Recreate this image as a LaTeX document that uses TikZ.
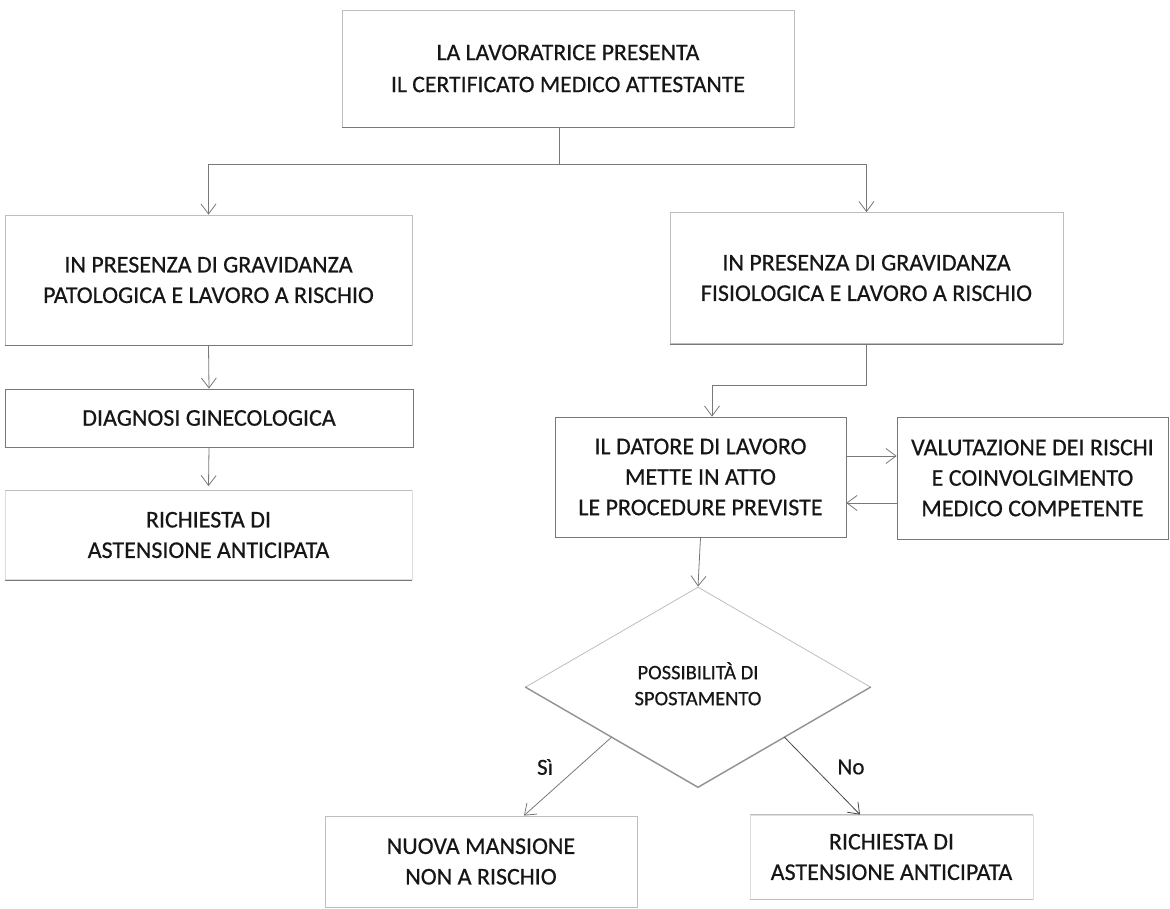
\documentclass[tikz,border=0pt]{standalone}
\usepackage{fontspec}
\setmainfont{Carlito}[FakeBold=0.5]
\usetikzlibrary{arrows.meta,shapes.geometric}
\definecolor{ln}{RGB}{120,120,120}
\definecolor{lnlight}{RGB}{190,190,190}
\definecolor{lnfaint}{RGB}{222,222,222}
\definecolor{tx}{RGB}{22,22,22}
\begin{document}
\begin{tikzpicture}[x=1pt,y=-1pt,
  box/.style={draw=ln, line width=0.8pt, rectangle, inner sep=0pt, align=center, text=tx,
              font=\fontsize{24}{30.5}\selectfont},
  softbox/.style={box, draw=lnlight},
  faintbox/.style={box, draw=lnfaint},
  arr/.style={draw=ln, line width=0.8pt, -{Straight Barb[length=10pt,width=15pt]}},
  conn/.style={draw=ln, line width=0.8pt},
  lab/.style={text=tx, font=\fontsize{23}{28}\selectfont, inner sep=0pt}]
\useasboundingbox (0,0) rectangle (1170,909);
\fill[white] (0,0) rectangle (1170,909);

% nodes
\node[softbox, minimum width=452pt, minimum height=117pt, font=\fontsize{23.7}{32}\selectfont] (top) at (568,68.5)
  {LA LAVORATRICE PRESENTA\\IL CERTIFICATO MEDICO ATTESTANTE};
\node[softbox, minimum width=407pt, minimum height=130pt] (pat) at (208.5,280)
  {IN PRESENZA DI GRAVIDANZA\\PATOLOGICA E LAVORO A RISCHIO};
\node[box, minimum width=408pt, minimum height=58pt] (diag) at (209,418)
  {DIAGNOSI GINECOLOGICA};
\node[faintbox, minimum width=407pt, minimum height=89pt] (ric1) at (208.5,535)
  {RICHIESTA DI\\ASTENSIONE ANTICIPATA};
\node[softbox, minimum width=393pt, minimum height=131pt] (fis) at (866.5,278)
  {IN PRESENZA DI GRAVIDANZA\\FISIOLOGICA E LAVORO A RISCHIO};
\node[box, minimum width=291pt, minimum height=120pt] (dat) at (700.5,477)
  {IL DATORE DI LAVORO\\METTE IN ATTO\\LE PROCEDURE PREVISTE};
\node[box, minimum width=271pt, minimum height=122pt] (val) at (1032.5,478)
  {VALUTAZIONE DEI RISCHI\\E COINVOLGIMENTO\\MEDICO COMPETENTE};
\node[draw=lnlight, line width=0.8pt, shape=diamond, minimum width=345pt, minimum height=200pt,
      inner sep=0pt, align=center, text=tx, font=\fontsize{20.5}{26}\selectfont] (dia) at (698,687)
  {\raisebox{10pt}{\begin{tabular}{@{}c@{}}POSSIBILITÀ DI\\SPOSTAMENTO\end{tabular}}};
\node[softbox, minimum width=312pt, minimum height=91pt] (nuo) at (481,861.5)
  {NUOVA MANSIONE\\NON A RISCHIO};
\node[faintbox, minimum width=283pt, minimum height=84pt] (ric2) at (891.5,857)
  {RICHIESTA DI\\ASTENSIONE ANTICIPATA};

% darker edges as in the scan
\draw[conn] (top.south west) -- (top.south east);
\draw[conn] (pat.south west) -- (pat.south east);
\draw[conn, line width=1pt] (diag.south west) -- (diag.south east);
\draw[conn, draw=lnlight] (ric1.north west) -- (ric1.north east);
\draw[conn] (ric1.south west) -- (ric1.south east);
\draw[conn] (fis.south west) -- (fis.south east);
\draw[conn, line width=1pt] (dat.south west) -- (dat.south east);
\draw[conn, line width=1pt] (val.south west) -- (val.south east);
\draw[conn, draw=lnlight] (ric2.north west) -- (ric2.north east);
\draw[conn, draw=lnlight] (ric2.south west) -- (ric2.south east);
\draw[conn, line width=1.3pt, draw=ln!80] (dia.west) -- (dia.south) -- (dia.east);

% labels
\node[lab] (si) at (545,767) {Sì};
\node[lab] (no) at (851,767) {No};

% connectors
\coordinate (j) at (559,164);
\draw[conn] (top.south -| j) -- (j);
\draw[arr] (j) -| (pat.north);
\draw[arr] (j) -| (fis.north);
\draw[arr] (pat.south) -- (diag.north);
\draw[arr] (diag.south) -- ([yshift=4pt]ric1.north);
\coordinate (k) at (712,385);
\draw[arr] (fis.south) |- (k) -- (dat.north -| k);
\draw[arr] ([yshift=21pt]dat.east) -- ([yshift=21pt]dat.east -| val.west);
\draw[arr] ([yshift=-26pt]dat.east -| val.west) -- ([yshift=-26pt]dat.east);
\draw[arr] (dat.south) -- (dia.north);
\draw[arr] (dia.south west) -- ([xshift=43pt]nuo.north);
\draw[arr, draw=ln!60!black] (dia.south east) -- ([xshift=-31.5pt]ric2.north);
\end{tikzpicture}
\end{document}
